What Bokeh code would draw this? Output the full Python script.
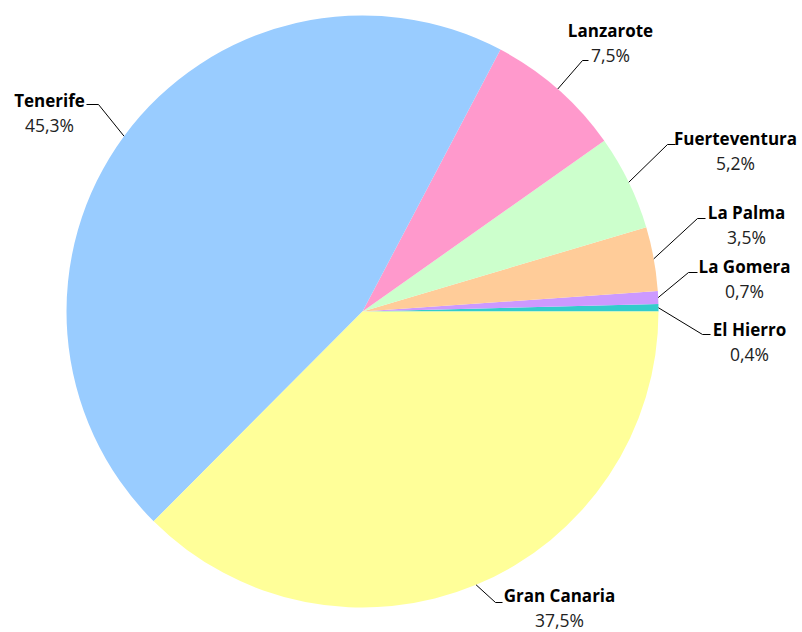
import math
from bokeh.plotting import figure
from bokeh.models import Range1d, ColumnDataSource
from bokeh.core.properties import value
from bokeh.embed import file_html
from bokeh.resources import INLINE

# ---- data (counter-clockwise from 3 o'clock) ----
islands = ["El Hierro", "La Gomera", "La Palma", "Fuerteventura", "Lanzarote", "Tenerife", "Gran Canaria"]
shares = [0.4, 0.7, 3.5, 5.2, 7.5, 45.3, 37.5]
colors = ["#33CCCC", "#CC99FF", "#FFCC99", "#CCFFCC", "#FF99CC", "#99CCFF", "#FFFF99"]

# ---- layout (pixel coords, y from top) ----
W, H = 802, 632
CX, CY, R = 362, 311, 296
label_cx = [749, 744, 746, 735, 610, 49, 559]
label_mid = [329, 266, 212, 138, 30, 100, 595]
pct_dy = 24
elbow = [(702, 334), (688, 272), (697, 218), (667, 144), (582, 60), (98, 104), (495, 602)]
leader_end_x = [710, 697, 705, 675, 588, 86, 502]

def fy(y):
    return H - y

total = sum(shares)
starts, ends, mids = [], [], []
acc = 0.0
for s in shares:
    a0 = acc / total * 2 * math.pi
    acc += s
    a1 = acc / total * 2 * math.pi
    starts.append(a0)
    ends.append(a1)
    mids.append((a0 + a1) / 2)

p = figure(width=W, height=H, x_range=Range1d(0, W), y_range=Range1d(0, H),
           output_backend="svg", toolbar_location=None, min_border=0,
           outline_line_color=None)
p.axis.visible = False
p.grid.visible = False
p.background_fill_color = "white"
p.border_fill_color = "white"

src = ColumnDataSource(dict(start=starts, end=ends, color=colors))
p.wedge(x=CX, y=fy(CY), radius=R, start_angle="start", end_angle="end",
        direction="anticlock", fill_color="color", line_color=None, source=src)

xs, ys = [], []
for i, m in enumerate(mids):
    sx = CX + R * math.cos(m)
    sy = CY - R * math.sin(m)
    ex, ey = elbow[i]
    xs.append([sx, ex, leader_end_x[i]])
    ys.append([fy(sy), fy(ey), fy(ey)])
p.multi_line(xs=xs, ys=ys, line_color="black", line_width=1)

pct_text = [("%.1f" % s).replace(".", ",") + "%" for s in shares]
p.text(x=label_cx, y=[fy(b) for b in label_mid], text=islands,
       text_font=value("Open Sans"), text_font_style="bold", text_font_size="17px",
       text_align="center", text_baseline="middle", text_color="black")
p.text(x=label_cx, y=[fy(b + pct_dy) for b in label_mid], text=pct_text,
       text_font=value("Open Sans"), text_font_size="17.5px",
       text_align="center", text_baseline="middle", text_color="#222222")

open("out.html", "w").write(file_html(p, INLINE))
